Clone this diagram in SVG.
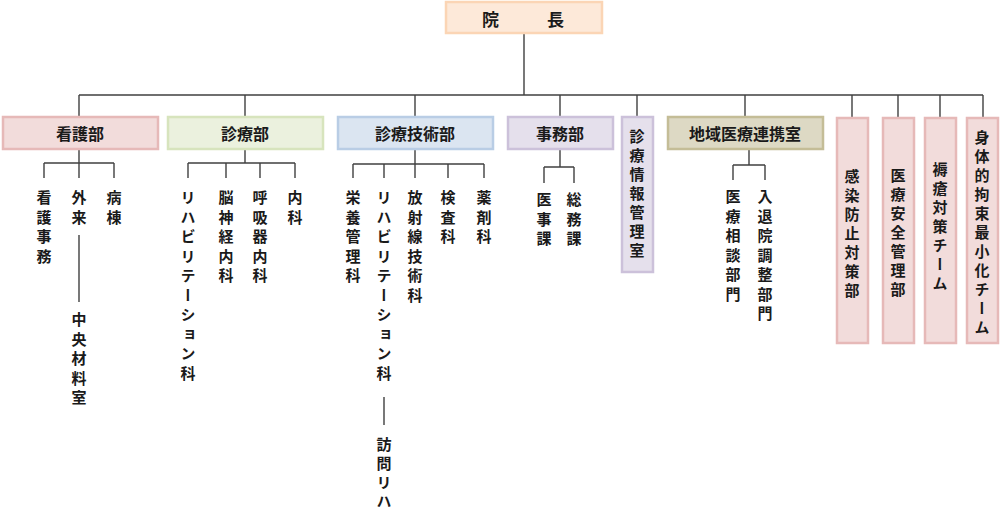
<svg xmlns="http://www.w3.org/2000/svg" width="1000" height="515" viewBox="0 0 1000 515">
<style>
.bx{stroke-width:2.5}
.pink{fill:#f2dcdb;stroke:#e6b9b8}
.green{fill:#ebf1de;stroke:#d7e4bd}
.blue{fill:#dbe5f1;stroke:#b9cde5}
.purple{fill:#e5e0ec;stroke:#ccc1da}
.olive{fill:#ddd9c4;stroke:#c4bd97}
.orange{fill:#fde9d9;stroke:#fbd5b5}
text{font-family:"Noto Sans CJK JP","Noto Sans CJK SC",sans-serif;font-weight:bold;fill:#1a1a1a}
.lbl{font-size:16px;text-anchor:middle;dominant-baseline:central}
.v{font-size:15px;writing-mode:vertical-rl;letter-spacing:4.5px}
.vb{font-size:15px;writing-mode:vertical-rl;letter-spacing:4px}
#conn path{fill:none;stroke:#404040;stroke-width:1.4}
</style>
<g id="conn">
<path d="M524 33V95M79 95H983M79 95V117M245 95V117M415 95V117M560 95V117M637 95V117M745 95V117M852 95V117M898 95V117M940 95V117M983 95V117"/>
<path d="M79 149V163M44 163H114M44 163V178M79 163V178M114 163V178M79 235V302"/>
<path d="M245 149V163M188 163H295M188 163V178M226 163V178M260 163V178M295 163V178"/>
<path d="M415 149V164M353 164H484M353 164V178M384 164V178M415 164V178M448 164V178M484 164V178M384 397V425"/>
<path d="M560 149V167M544 167H574M544 167V183M574 167V183"/>
<path d="M749 149V165M733 165H765M733 165V180M765 165V180"/>
</g>
<g id="n-director"><rect class="bx orange" x="446" y="2" width="156" height="31"/><text x="482" y="18" style="font-size:17px;letter-spacing:4.7px;dominant-baseline:central">院　　長</text></g>
<g id="n-kango"><rect class="bx pink" x="3" y="117" width="155" height="32"/><text class="lbl" x="80" y="133">看護部</text></g>
<g id="n-shinryo"><rect class="bx green" x="168" y="117" width="155" height="32"/><text class="lbl" x="245" y="133">診療部</text></g>
<g id="n-gijutsu"><rect class="bx blue" x="338" y="117" width="155" height="32"/><text class="lbl" x="415" y="133">診療技術部</text></g>
<g id="n-jimu"><rect class="bx purple" x="508" y="117" width="105" height="32"/><text class="lbl" x="560" y="133">事務部</text></g>
<g id="n-joho"><rect class="bx purple" x="622" y="117" width="31" height="155"/><text class="vb" x="637" y="129">診療情報管理室</text></g>
<g id="n-chiiki"><rect class="bx olive" x="668" y="117" width="155" height="32"/><text class="lbl" x="745" y="133">地域医療連携室</text></g>
<g id="n-kansen"><rect class="bx pink" x="837" y="118" width="31" height="225"/><text class="vb" x="852" y="169">感染防止対策部</text></g>
<g id="n-anzen"><rect class="bx pink" x="883" y="118" width="31" height="225"/><text class="vb" x="898" y="168">医療安全管理部</text></g>
<g id="n-jokuso"><rect class="bx pink" x="925" y="118" width="31" height="225"/><text class="vb" x="940" y="162">褥瘡対策チーム</text></g>
<g id="n-kosoku"><rect class="bx pink" x="967" y="118" width="31" height="225"/><text class="vb" x="982" y="130">身体的拘束最小化チーム</text></g>
<g id="n-kango-sub">
<text class="v" x="44" y="190">看護事務</text>
<text class="v" x="79" y="190">外来</text>
<text class="v" x="114" y="190">病棟</text>
<text class="v" x="79" y="312">中央材料室</text>
</g>
<g id="n-shinryo-sub">
<text class="v" x="188" y="190">リハビリテーション科</text>
<text class="v" x="226" y="190">脳神経内科</text>
<text class="v" x="260" y="190">呼吸器内科</text>
<text class="v" x="295" y="190">内科</text>
</g>
<g id="n-gijutsu-sub">
<text class="v" x="353" y="190">栄養管理科</text>
<text class="v" x="384" y="190">リハビリテーション科</text>
<text class="v" x="415" y="190">放射線技術科</text>
<text class="v" x="448" y="190">検査科</text>
<text class="v" x="484" y="190">薬剤科</text>
<text class="vb" x="384" y="437">訪問リハ</text>
</g>
<g id="n-jimu-sub">
<text class="v" x="544" y="192">医事課</text>
<text class="v" x="574" y="192">総務課</text>
</g>
<g id="n-chiiki-sub">
<text class="v" x="733" y="189">医療相談部門</text>
<text class="v" x="765" y="189">入退院調整部門</text>
</g>
</svg>
